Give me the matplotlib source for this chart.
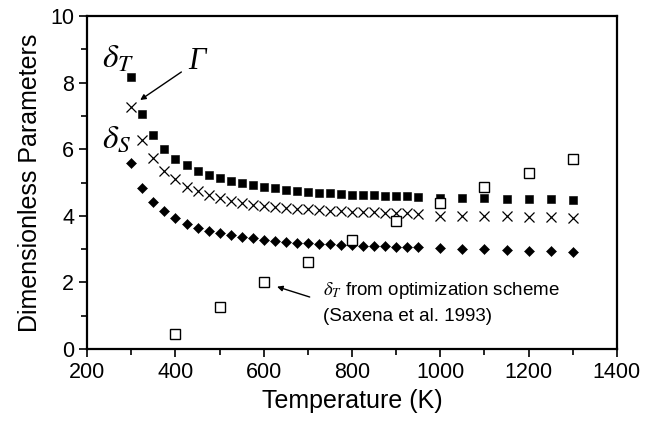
import numpy as np
import matplotlib
matplotlib.use('Agg')
import matplotlib.pyplot as plt

plt.rcParams['font.family'] = ['Liberation Sans', 'DejaVu Sans']
plt.rcParams['mathtext.fontset'] = 'stix'

# temperatures for the computed curves
temp = [300, 325, 350, 375, 400, 425, 450, 475, 500, 525, 550, 575, 600, 625,
        650, 675, 700, 725, 750, 775, 800, 825, 850, 875, 900, 925, 950,
        1000, 1050, 1100, 1150, 1200, 1250, 1300]

delta_t = [8.17, 7.05, 6.43, 6.00, 5.72, 5.52, 5.36, 5.23, 5.13, 5.05, 4.98, 4.92,
           4.87, 4.83, 4.79, 4.76, 4.73, 4.70, 4.68, 4.66, 4.64, 4.63, 4.62, 4.61,
           4.60, 4.59, 4.58, 4.55, 4.54, 4.53, 4.52, 4.51, 4.50, 4.49]

gamma = [7.27, 6.28, 5.73, 5.35, 5.10, 4.88, 4.74, 4.62, 4.53, 4.45, 4.39, 4.34,
         4.30, 4.27, 4.24, 4.21, 4.19, 4.17, 4.15, 4.14, 4.12, 4.11, 4.10, 4.09,
         4.08, 4.07, 4.06, 4.00, 4.00, 3.99, 3.98, 3.97, 3.95, 3.93]

delta_s = [5.60, 4.83, 4.41, 4.14, 3.93, 3.76, 3.64, 3.55, 3.48, 3.42, 3.36, 3.32,
           3.28, 3.25, 3.22, 3.19, 3.17, 3.15, 3.14, 3.12, 3.11, 3.10, 3.09, 3.08,
           3.07, 3.06, 3.05, 3.02, 3.00, 2.99, 2.97, 2.95, 2.93, 2.91]

# optimization scheme (Saxena et al. 1993)
temp_sax = [400, 500, 600, 700, 800, 900, 1000, 1100, 1200, 1300]
delta_t_sax = [0.45, 1.25, 2.0, 2.62, 3.27, 3.85, 4.38, 4.86, 5.3, 5.7]

fig = plt.figure(figsize=(6.46, 4.25), dpi=100)
ax = fig.add_axes([0.135, 0.179, 0.82, 0.783])

ax.plot(temp, delta_t, linestyle='none', marker='s', ms=5.6, mew=0.4, color='black')
ax.plot(temp, gamma, linestyle='none', marker='x', ms=7.5, mew=0.9, color='black')
ax.plot(temp, delta_s, linestyle='none', marker='D', ms=4.6, mew=0.4, color='black')
ax.plot(temp_sax, delta_t_sax, linestyle='none', marker='s', ms=6.5,
        mfc='white', mec='black', mew=1.0)

ax.set_xlim(200, 1400)
ax.set_ylim(0, 10)
ax.set_xticks(np.arange(200, 1401, 200))
ax.set_xticks(np.arange(300, 1400, 200), minor=True)
ax.set_yticks(np.arange(0, 11, 2))
ax.set_yticks(np.arange(1, 10, 2), minor=True)
ax.tick_params(which='major', direction='out', length=6, width=1.2, labelsize=15.5)
ax.tick_params(which='minor', direction='out', length=4, width=1.2)
for sp in ax.spines.values():
    sp.set_linewidth(1.6)

ax.set_xlabel('Temperature (K)', fontsize=18, labelpad=4)
ax.set_ylabel('Dimensionless Parameters', fontsize=18, labelpad=6)

# labels for the curves
ax.text(234, 8.45, r'$\delta_T$', fontsize=24)
ax.text(234, 6.05, r'$\delta_S$', fontsize=24)
ax.annotate('Γ', xy=(320, 7.48), xytext=(430, 8.65),
            fontsize=22, va='center', fontstyle='italic',
            family=['Liberation Serif', 'DejaVu Serif'],
            arrowprops=dict(arrowstyle='-|>', color='black', lw=1.0,
                            mutation_scale=8, shrinkA=4, shrinkB=0))

# note for the optimization-scheme points
ax.annotate('', xy=(630, 1.87), xytext=(704, 1.56),
            arrowprops=dict(arrowstyle='-|>', color='black', lw=1.0,
                            mutation_scale=8, shrinkA=0, shrinkB=0))
ax.text(734, 1.75, r'$\delta_T$ from optimization scheme', fontsize=13.5, va='center')
ax.text(734, 0.98, '(Saxena et al. 1993)', fontsize=13.5, va='center')

fig.savefig('out.png', dpi=100)
